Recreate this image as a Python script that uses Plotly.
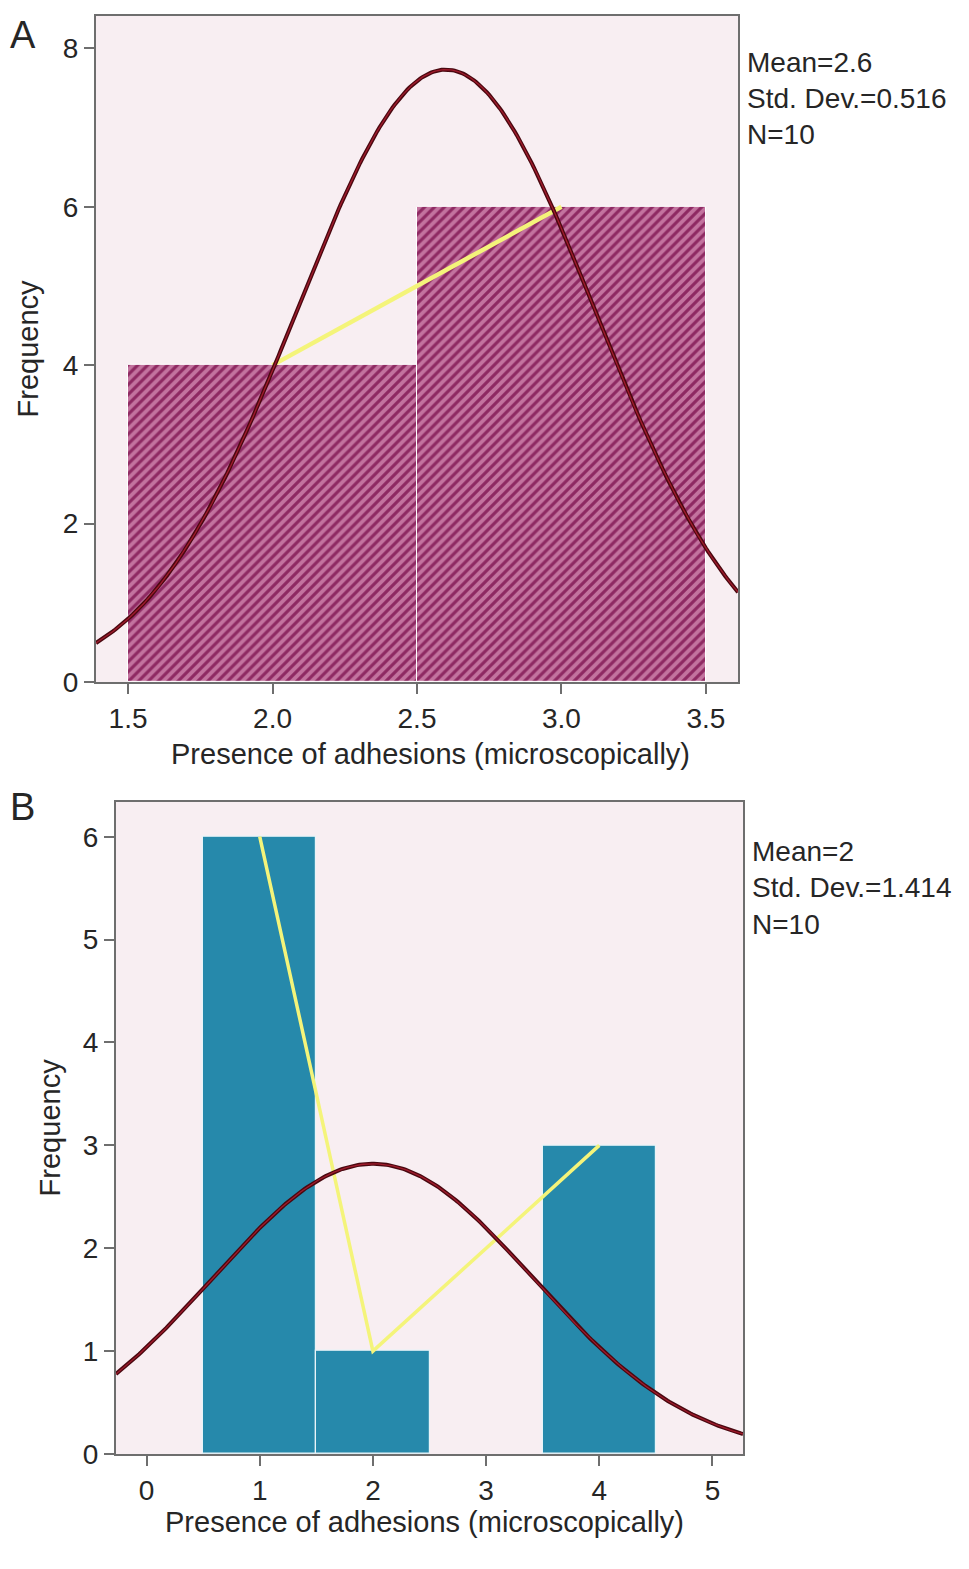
import numpy as np
import plotly.graph_objects as go

# Panel A data
a_bin_centers = [2.0, 3.0]
a_counts = [4, 6]
a_mean, a_sd, a_n = 2.6, 0.516, 10
a_xticks = [1.5, 2.0, 2.5, 3.0, 3.5]
a_yticks = [0, 2, 4, 6, 8]

# Panel B data
b_bin_centers = [1, 2, 4]
b_counts = [6, 1, 3]
b_mean, b_sd, b_n = 2, 1.414, 10
b_xticks = [0, 1, 2, 3, 4, 5]
b_yticks = [0, 1, 2, 3, 4, 5, 6]

xlabel = "Presence of adhesions (microscopically)"
ylabel = "Frequency"
FONT = "Liberation Sans, Arial, sans-serif"
TXT = "#262626"
AX = "#6e6e6e"
BG = "#f8eef2"
CURVE_OUT = "#4a0810"
CURVE_IN = "#a01b2c"
YEL = "#f4f47a"

W, H = 969, 1569

a_xr = [1.389, 3.611]
b_xr = [-0.27, 5.27]


def normal_curve(mean, sd, n, xr):
    xs = np.linspace(xr[0], xr[1], 300)
    ys = n * 1.0 / (sd * np.sqrt(2 * np.pi)) * np.exp(-0.5 * ((xs - mean) / sd) ** 2)
    return xs, ys


def fx(px):
    return px / W


def fy(py):
    return 1 - py / H


fig = go.Figure()

# Panel A
fig.add_trace(go.Bar(
    x=a_bin_centers, y=a_counts, width=1, xaxis="x", yaxis="y",
    marker=dict(color="#a5336f", line=dict(color="white", width=1),
                pattern=dict(shape="/", fgcolor="#f7bddb", bgcolor="#8e2962",
                             size=7, solidity=0.55)),
    showlegend=False))
fig.add_trace(go.Scatter(x=a_bin_centers, y=a_counts, mode="lines", xaxis="x", yaxis="y",
                         line=dict(color=YEL, width=4.5), showlegend=False))
xa, ya = normal_curve(a_mean, a_sd, a_n, a_xr)
fig.add_trace(go.Scatter(x=xa, y=ya, mode="lines", xaxis="x", yaxis="y",
                         line=dict(color=CURVE_OUT, width=4), showlegend=False))
fig.add_trace(go.Scatter(x=xa, y=ya, mode="lines", xaxis="x", yaxis="y",
                         line=dict(color=CURVE_IN, width=1.3), showlegend=False))

# Panel B
fig.add_trace(go.Bar(
    x=b_bin_centers, y=b_counts, width=1, xaxis="x2", yaxis="y2",
    marker=dict(color="#2689ab", line=dict(color="#e8f4f8", width=1.2)),
    showlegend=False))
fig.add_trace(go.Scatter(x=b_bin_centers, y=b_counts, mode="lines", xaxis="x2", yaxis="y2",
                         line=dict(color=YEL, width=3.5), showlegend=False))
xb, yb = normal_curve(b_mean, b_sd, b_n, b_xr)
fig.add_trace(go.Scatter(x=xb, y=yb, mode="lines", xaxis="x2", yaxis="y2",
                         line=dict(color=CURVE_OUT, width=4), showlegend=False))
fig.add_trace(go.Scatter(x=xb, y=yb, mode="lines", xaxis="x2", yaxis="y2",
                         line=dict(color=CURVE_IN, width=1.3), showlegend=False))

axis_common = dict(showline=True, linecolor=AX, linewidth=2, mirror=True,
                   ticks="outside", ticklen=10, tickwidth=2, tickcolor=AX,
                   showgrid=False, zeroline=False,
                   tickfont=dict(family=FONT, size=28, color=TXT))
title_font = dict(family=FONT, size=29, color=TXT)

fig.update_layout(
    width=W, height=H,
    margin=dict(l=0, r=0, t=0, b=0),
    paper_bgcolor="white",
    plot_bgcolor=BG,
    bargap=0,
    font=dict(family=FONT, color=TXT),
    xaxis=dict(domain=[fx(96), fx(738)], range=a_xr, tickvals=a_xticks,
               ticktext=[f"{v:.1f}" for v in a_xticks], anchor="y",
               **axis_common),
    yaxis=dict(domain=[fy(689), fy(16)], range=[0, 8.41], tickvals=a_yticks, anchor="x",
               title=dict(text=ylabel, font=title_font, standoff=16),
               **axis_common),
    xaxis2=dict(domain=[fx(116), fx(743)], range=b_xr, tickvals=b_xticks, anchor="y2",
                **axis_common),
    yaxis2=dict(domain=[fy(1469), fy(810)], range=[0, 6.34], tickvals=b_yticks, anchor="x2",
                title=dict(text=ylabel, font=title_font, standoff=14),
                **axis_common),
)


def ann(text, px, py, size=28, xanchor="left"):
    fig.add_annotation(text=text, x=fx(px), y=fy(py), xref="paper", yref="paper",
                       showarrow=False, xanchor=xanchor, yanchor="middle",
                       font=dict(family=FONT, size=size, color=TXT))


# x-axis titles (placed to match reference centring)
ann(xlabel, 430, 762, size=29, xanchor="center")
ann(xlabel, 424, 1538, size=29, xanchor="center")

ann("A", 8, 35, size=38)
ann(f"Mean={a_mean}", 745, 63)
ann(f"Std. Dev.={a_sd}", 745, 100)
ann(f"N={a_n}", 745, 136)

ann("B", 8, 815, size=38)
ann(f"Mean={b_mean}", 750, 860)
ann(f"Std. Dev.={b_sd}", 750, 897)
ann(f"N={b_n}", 750, 934)

fig.write_html("out.html", config={"displayModeBar": False},
               post_script="document.body.style.margin='0px';document.body.style.overflow='hidden';")
